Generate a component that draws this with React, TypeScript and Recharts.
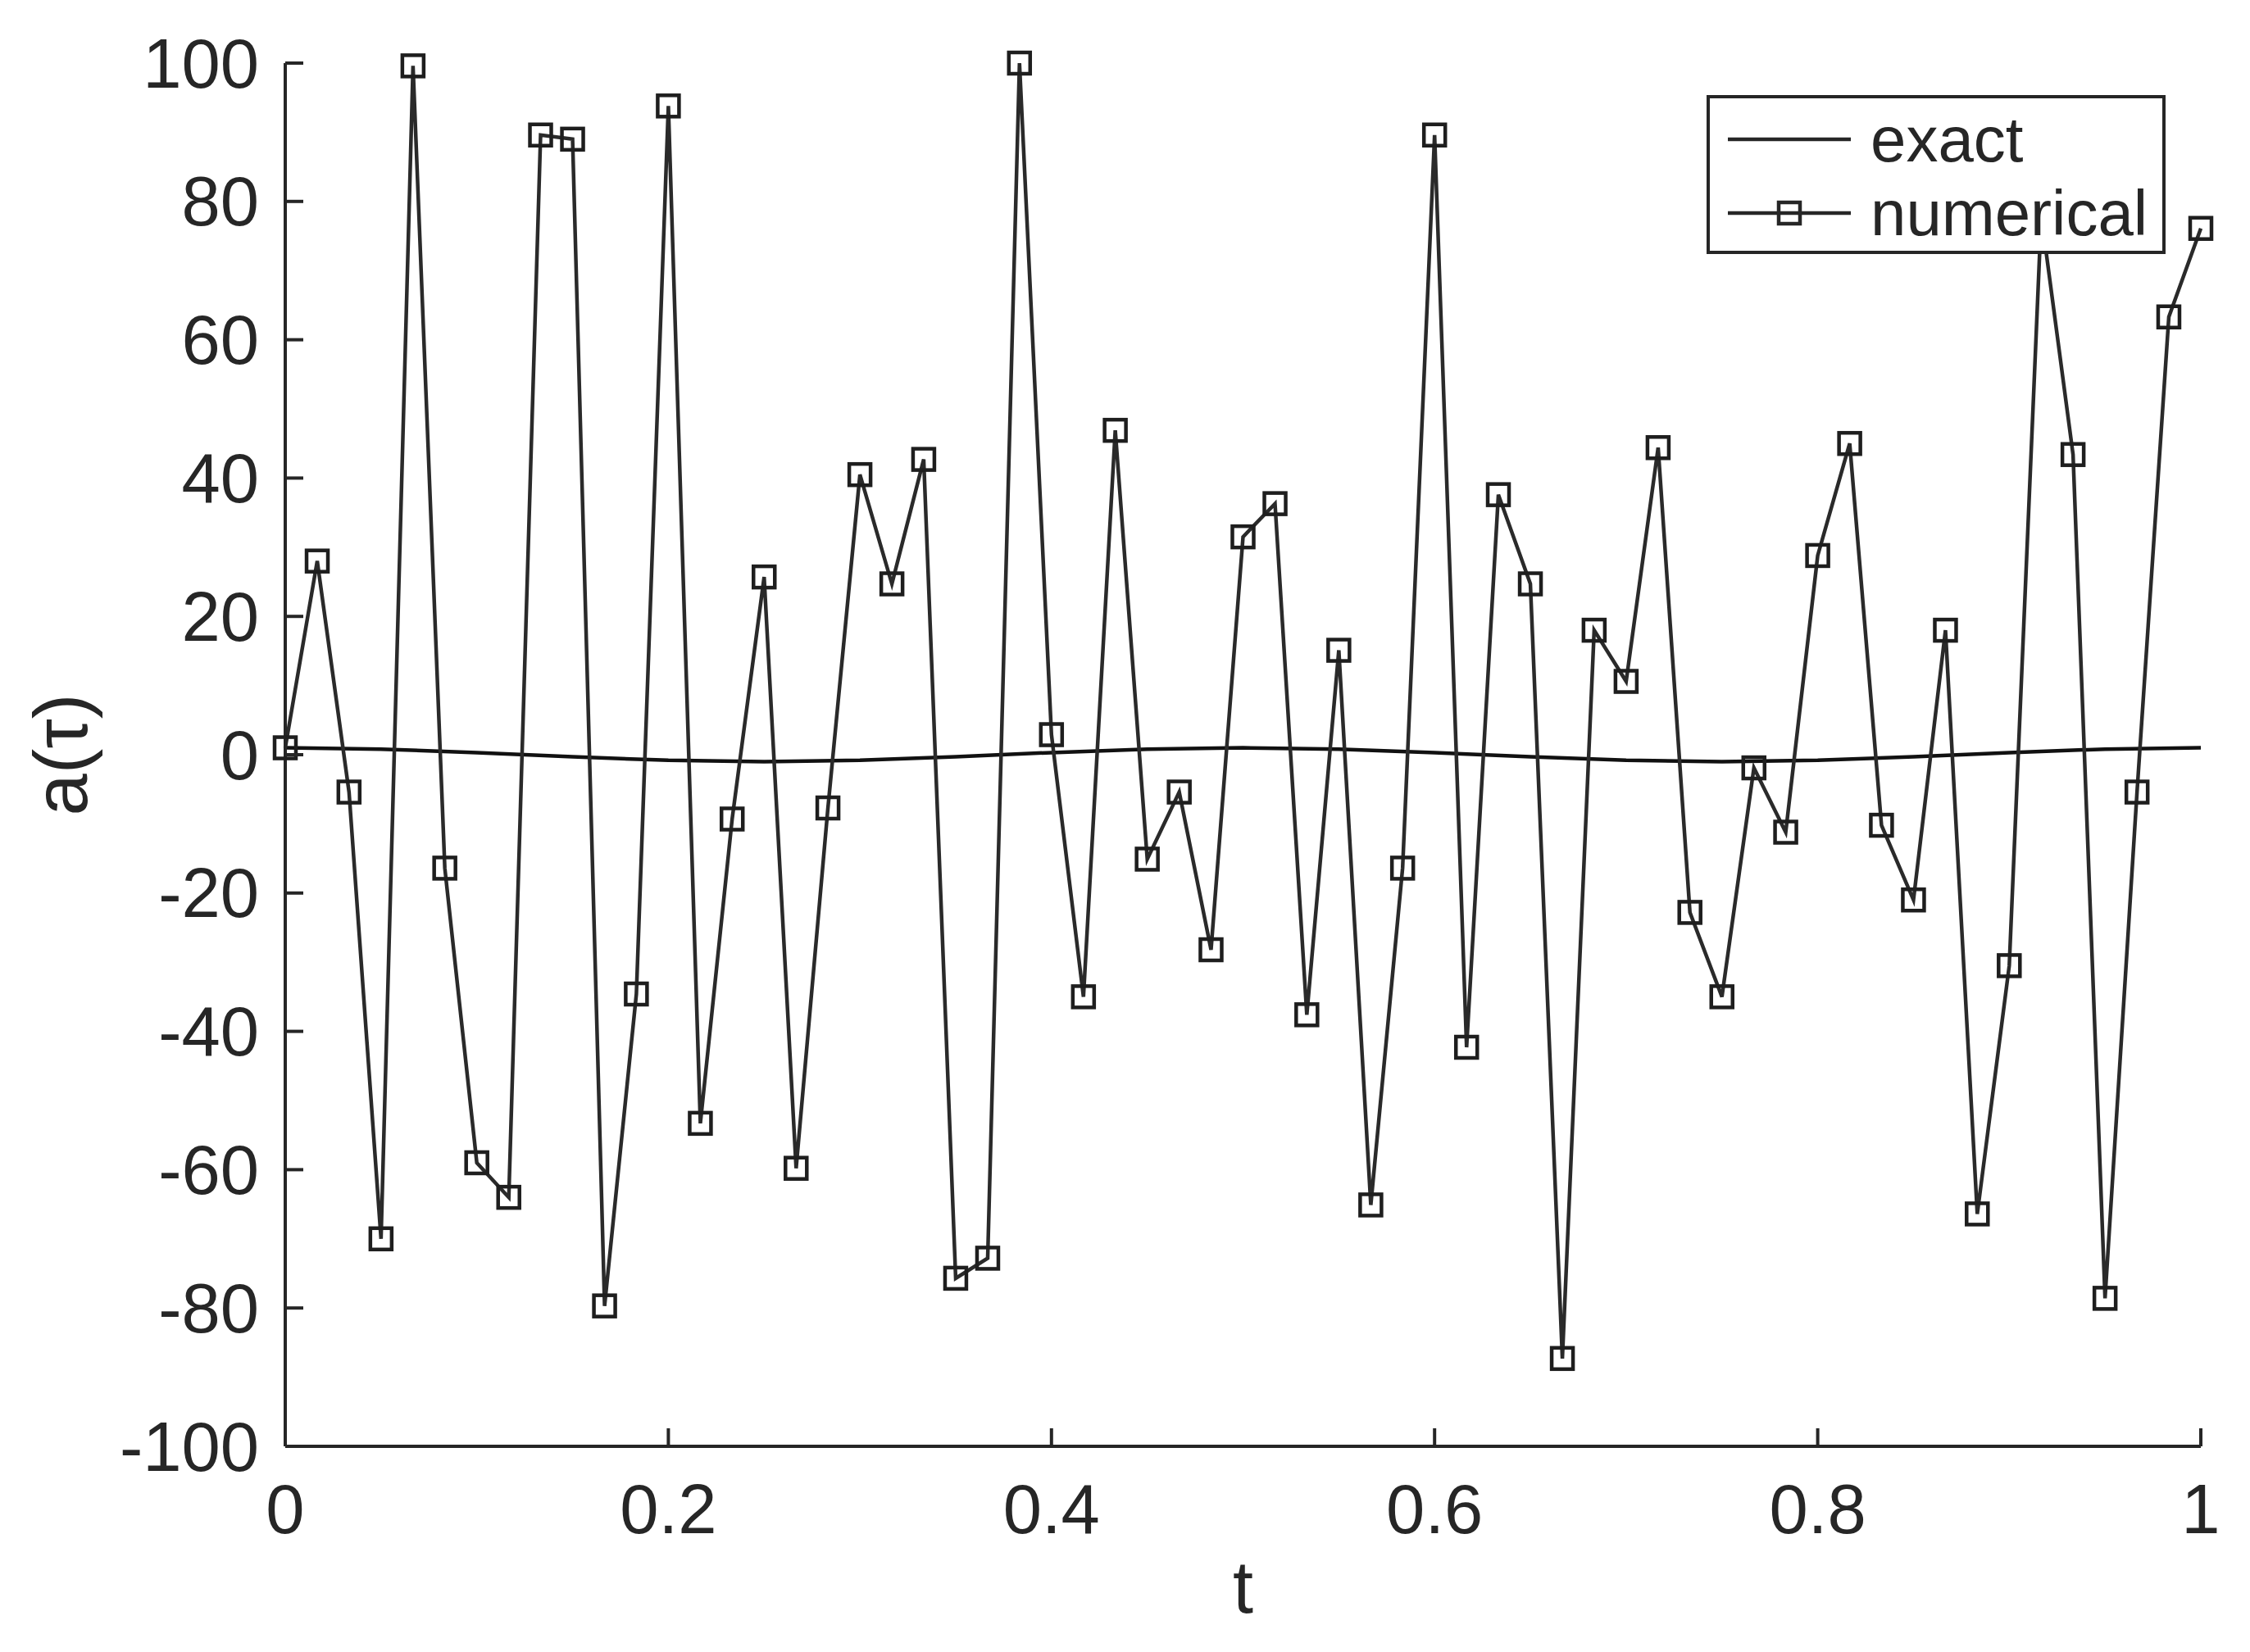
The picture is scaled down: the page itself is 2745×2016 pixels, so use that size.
import { Legend, Line, LineChart, XAxis, YAxis } from 'recharts';

const INK = '#262626';
const FONT = '"Liberation Sans", Arial, Helvetica, sans-serif';

// sample times of the numerical scheme (61 points)
const tSteps = [
  0, 0.0167, 0.0333, 0.05, 0.0667, 0.0833, 0.1, 0.1167, 0.1333, 0.15, 0.1667, 0.1833, 0.2, 0.2167,
  0.2333, 0.25, 0.2667, 0.2833, 0.3, 0.3167, 0.3333, 0.35, 0.3667, 0.3833, 0.4, 0.4167, 0.4333, 0.45,
  0.4667, 0.4833, 0.5, 0.5167, 0.5333, 0.55, 0.5667, 0.5833, 0.6, 0.6167, 0.6333, 0.65, 0.6667,
  0.6833, 0.7, 0.7167, 0.7333, 0.75, 0.7667, 0.7833, 0.8, 0.8167, 0.8333, 0.85, 0.8667, 0.8833, 0.9,
  0.9167, 0.9333, 0.95, 0.9667, 0.9833, 1,
];

const numericalValues = [
  1, 28, -5.4, -70, 99.6, -16.4, -59, -64, 89.6, 89,
  -79.7, -34.6, 93.8, -53.3, -9.3, 25.7, -59.8, -7.7, 40.5, 24.7,
  42.7, -75.7, -72.8, 100, 2.9, -35, 46.9, -15.1, -5.4, -28.2,
  31.5, 36.3, -37.6, 15.1, -65.1, -16.4, 89.6, -42.3, 37.6, 24.7,
  -87.3, 18, 10.6, 44.4, -22.8, -35, -1.9, -11.2, 28.8, 45,
  -10.2, -21, 18, -66.4, -30.5, 78, 43.4, -78.6, -5.4, 63.3,
  76.1,
];

// exact solution, read every 0.05
const exactT = [
  0, 0.05, 0.1, 0.15, 0.2, 0.25, 0.3, 0.35, 0.4, 0.45, 0.5,
  0.55, 0.6, 0.65, 0.7, 0.75, 0.8, 0.85, 0.9, 0.95, 1,
];
const exactValues = [
  1, 0.81, 0.31, -0.31, -0.81, -1, -0.81, -0.31, 0.31, 0.81, 1,
  0.81, 0.31, -0.31, -0.81, -1, -0.81, -0.31, 0.31, 0.81, 1,
];

const xTicks = [0, 0.2, 0.4, 0.6, 0.8, 1];
const yTicks = [-100, -80, -60, -40, -20, 0, 20, 40, 60, 80, 100];

const numericalData = tSteps.map((t, i) => ({ t, a: numericalValues[i] }));
const exactData = exactT.map((t, i) => ({ t, a: exactValues[i] }));

function SquareDot(props: any) {
  const { cx, cy, index } = props;
  if (cx == null || cy == null) return null;
  return (
    <rect
      key={index}
      x={cx - 13}
      y={cy - 13}
      width={26}
      height={26}
      fill="none"
      stroke="#1e1e1e"
      strokeWidth={4.5}
    />
  );
}

function YTick({ x, y, payload }: any) {
  return (
    <g>
      <line x1={x} x2={x + 22} y1={y} y2={y} stroke={INK} strokeWidth={4} />
      <text
        x={x - 32}
        y={y}
        textAnchor="end"
        dominantBaseline="central"
        fontFamily={FONT}
        fontSize={85}
        fill={INK}
      >
        {payload.value}
      </text>
    </g>
  );
}

function XTick({ x, y, payload }: any) {
  return (
    <g>
      <line x1={x} x2={x} y1={y} y2={y - 22} stroke={INK} strokeWidth={4} />
      <text x={x} y={y + 106} textAnchor="middle" fontFamily={FONT} fontSize={85} fill={INK}>
        {String(payload.value)}
      </text>
    </g>
  );
}

function YLabel({ viewBox }: any) {
  const cy = viewBox.y + viewBox.height / 2;
  const cx = 74;
  return (
    <text
      x={cx}
      y={cy}
      transform={`rotate(-90 ${cx} ${cy})`}
      textAnchor="middle"
      dominantBaseline="central"
      fontFamily={FONT}
      fontSize={92}
      fill={INK}
    >
      a(τ)
    </text>
  );
}

function LegendBox() {
  const row = (top: number, label: string, marker: boolean) => (
    <div style={{ position: 'absolute', left: 0, top, height: 0, width: '100%' }}>
      <svg
        width={160}
        height={40}
        style={{ position: 'absolute', left: 22, top: -20, overflow: 'visible' }}
      >
        <line x1={0} x2={150} y1={20} y2={20} stroke={INK} strokeWidth={4.5} />
        {marker && (
          <rect x={62} y={7} width={26} height={26} fill="none" stroke={INK} strokeWidth={4.5} />
        )}
      </svg>
      <span
        style={{
          position: 'absolute',
          left: 196,
          top: -46,
          lineHeight: '92px',
          whiteSpace: 'nowrap',
        }}
      >
        {label}
      </span>
    </div>
  );
  return (
    <div
      style={{
        position: 'relative',
        width: 560,
        height: 194,
        boxSizing: 'border-box',
        border: `4px solid ${INK}`,
        background: '#fff',
        fontFamily: FONT,
        fontSize: 78,
        color: INK,
      }}
    >
      {row(50, 'exact', false)}
      {row(140, 'numerical', true)}
    </div>
  );
}

export default function App() {
  return (
    <div style={{ position: 'absolute', left: 0, top: 0, background: '#fff' }}>
      <LineChart width={2745} height={2016} margin={{ top: 77, right: 60, bottom: 0, left: 0 }}>
        <XAxis
          type="number"
          dataKey="t"
          domain={[0, 1]}
          ticks={xTicks}
          interval={0}
          height={251}
          tickSize={0}
          tickMargin={0}
          tickLine={false}
          axisLine={{ stroke: INK, strokeWidth: 4 }}
          tick={<XTick />}
          allowDuplicatedCategory={false}
          label={{
            value: 't',
            position: 'insideBottom',
            offset: 48,
            fontFamily: FONT,
            fontSize: 90,
            fill: INK,
          }}
        />
        <YAxis
          type="number"
          domain={[-100, 100]}
          ticks={yTicks}
          interval={0}
          width={348}
          tickSize={0}
          tickMargin={0}
          tickLine={false}
          axisLine={{ stroke: INK, strokeWidth: 4 }}
          tick={<YTick />}
          label={<YLabel />}
        />
        <Legend
          layout="horizontal"
          verticalAlign="middle"
          align="center"
          wrapperStyle={{ left: 2082, top: 116, width: 560, height: 194 }}
          content={<LegendBox />}
        />
        <Line
          data={exactData}
          dataKey="a"
          name="exact"
          type="linear"
          stroke="#111"
          strokeWidth={4.5}
          dot={false}
          activeDot={false}
          isAnimationActive={false}
        />
        <Line
          data={numericalData}
          dataKey="a"
          name="numerical"
          type="linear"
          stroke="#2a2a2a"
          strokeWidth={4.5}
          dot={<SquareDot />}
          activeDot={false}
          isAnimationActive={false}
        />
      </LineChart>
    </div>
  );
}
